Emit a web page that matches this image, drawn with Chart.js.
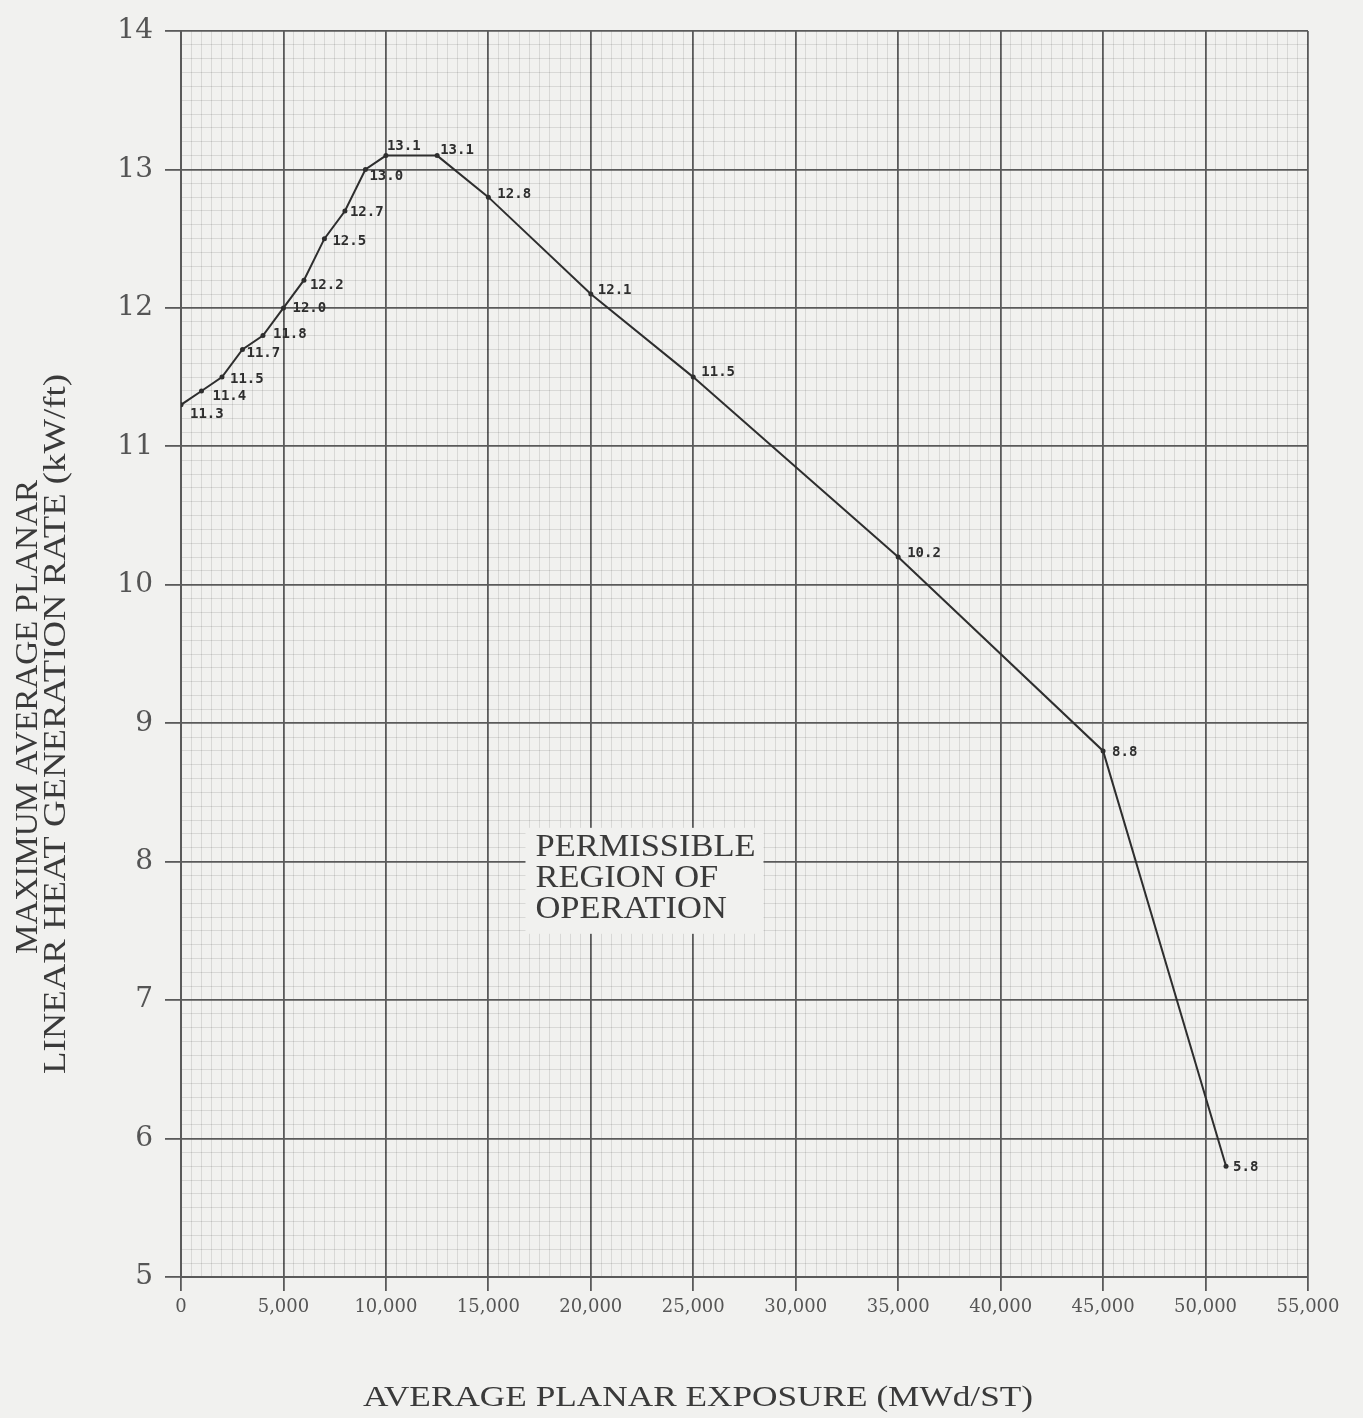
<!DOCTYPE html>
<html>
<head>
  <title>MAPLHGR vs Average Planar Exposure</title>
  <script src="https://cdn.jsdelivr.net/npm/chart.js"></script>
  <style>
    body {
      margin: 0;
      background-color: #f1f1ef;
    }
    #wrap {
      width: 1363px;
      height: 1418px;
    }
  </style>
</head>
<body>
  <div id="wrap">
    <canvas id="limitChart" width="1363" height="1418"></canvas>
  </div>

  <script>
    // exposure in MWd/ST, limit in kW/ft
    var exposure = [0, 1000, 2000, 3000, 4000, 5000, 6000, 7000, 8000, 9000, 10000, 12500, 15000, 20000, 25000, 35000, 45000, 51000];
    var limit = [11.3, 11.4, 11.5, 11.7, 11.8, 12.0, 12.2, 12.5, 12.7, 13.0, 13.1, 13.1, 12.8, 12.1, 11.5, 10.2, 8.8, 5.8];
    var xTitle = 'AVERAGE PLANAR EXPOSURE (MWd/ST)';
    var yTitle = ['MAXIMUM AVERAGE PLANAR', 'LINEAR HEAT GENERATION RATE (kW/ft)'];
    var regionText = ['PERMISSIBLE', 'REGION OF', 'OPERATION'];

    // where each value label sits relative to its point (px)
    var labelOffsets = [[9, 10], [11, 5], [8, 2], [4, 4], [10, -1], [9, 0], [6, 5], [8, 3], [5, 1], [4, 7],
      [1, -9], [3, -5], [9, -3], [7, -4], [8, -5], [9, -4], [9, 1], [7, 1]];

    var MAJOR = '#5a5a5a';
    var MINOR = 'rgba(0,0,0,0.10)';
    var BG = '#f1f1ef';

    function isWhole(v, step) {
      var r = v / step;
      return Math.abs(r - Math.round(r)) < 1e-6;
    }

    // draw a string squeezed/stretched to a given width
    function fitText(ctx, text, x, y, width) {
      var w = ctx.measureText(text).width;
      ctx.save();
      ctx.translate(x, y);
      ctx.scale(width / w, 1);
      ctx.fillText(text, 0, 0);
      ctx.restore();
    }

    var decorations = {
      id: 'decorations',
      beforeDraw: function (chart) {
        var ctx = chart.ctx;
        ctx.save();
        ctx.fillStyle = BG;
        ctx.fillRect(0, 0, chart.width, chart.height);
        ctx.restore();
      },
      beforeDatasetsDraw: function (chart) {
        var ctx = chart.ctx;
        var xs = chart.scales.x, ys = chart.scales.y;
        var left = xs.getPixelForValue(17300);
        var top = ys.getPixelForValue(8.1);
        ctx.save();
        ctx.fillStyle = BG;
        ctx.fillRect(left - 10, top - 20, 238, 106);
        ctx.fillStyle = '#3a3a3a';
        ctx.font = '32px "Liberation Serif"';
        ctx.textBaseline = 'middle';
        var sc = 220 / ctx.measureText(regionText[0]).width;
        regionText.forEach(function (t, i) {
          fitText(ctx, t, left, top + i * 31, ctx.measureText(t).width * sc);
        });
        ctx.restore();
      },
      afterDatasetsDraw: function (chart) {
        var ctx = chart.ctx;
        var meta = chart.getDatasetMeta(0);
        ctx.save();
        ctx.fillStyle = '#2e2e2e';
        ctx.font = 'bold 14px "DejaVu Sans Mono"';
        ctx.textBaseline = 'middle';
        meta.data.forEach(function (pt, i) {
          var off = labelOffsets[i];
          ctx.fillText(limit[i].toFixed(1), pt.x + off[0], pt.y + off[1]);
        });
        ctx.restore();
      },
      afterDraw: function (chart) {
        var ctx = chart.ctx;
        ctx.save();
        ctx.fillStyle = '#3a3a3a';
        ctx.textBaseline = 'middle';
        ctx.textAlign = 'left';
        ctx.font = '30px "Liberation Serif"';
        fitText(ctx, xTitle, 363, 1398, 670);

        ctx.font = '31px "Liberation Serif"';
        ctx.save();
        ctx.translate(29, 717);
        ctx.rotate(-Math.PI / 2);
        fitText(ctx, yTitle[0], -237, 0, 474);
        ctx.restore();
        ctx.save();
        ctx.translate(57, 724);
        ctx.rotate(-Math.PI / 2);
        fitText(ctx, yTitle[1], -350, 0, 700);
        ctx.restore();
        ctx.restore();
      }
    };

    var points = exposure.map(function (x, i) { return { x: x, y: limit[i] }; });

    var limitChart = new Chart(document.getElementById('limitChart').getContext('2d'), {
      type: 'line',
      data: {
        datasets: [{
          data: points,
          borderColor: '#2e2e2e',
          borderWidth: 2,
          pointRadius: 2.5,
          pointBackgroundColor: '#2e2e2e',
          pointBorderWidth: 0,
          tension: 0
        }]
      },
      options: {
        responsive: false,
        animation: false,
        layout: { padding: { left: 0, top: 31, right: 55, bottom: 0 } },
        plugins: {
          legend: { display: false },
          tooltip: { enabled: false }
        },
        scales: {
          x: {
            type: 'linear',
            min: 0,
            max: 55000,
            afterFit: function (scale) { scale.height = 141; },
            border: { display: true, color: MAJOR, width: 2 },
            grid: {
              color: function (c) { return isWhole(c.tick.value, 5000) ? MAJOR : MINOR; },
              lineWidth: function (c) { return isWhole(c.tick.value, 5000) ? 1.8 : 1; },
              tickColor: function (c) { return isWhole(c.tick.value, 5000) ? MAJOR : 'rgba(0,0,0,0)'; },
              tickLength: 14
            },
            ticks: {
              stepSize: 500,
              autoSkip: false,
              maxRotation: 0,
              padding: 6,
              color: '#555',
              font: { family: '"DejaVu Serif"', size: 18 },
              callback: function (v) { return isWhole(v, 5000) ? v.toLocaleString('en-US') : ''; }
            }
          },
          y: {
            min: 5,
            max: 14,
            afterFit: function (scale) { scale.width = 181; },
            border: { display: true, color: MAJOR, width: 2 },
            grid: {
              color: function (c) { return isWhole(c.tick.value, 1) ? MAJOR : MINOR; },
              lineWidth: function (c) { return isWhole(c.tick.value, 1) ? 1.8 : 1; },
              tickColor: function (c) { return isWhole(c.tick.value, 1) ? MAJOR : 'rgba(0,0,0,0)'; },
              tickLength: 16
            },
            ticks: {
              stepSize: 0.1,
              autoSkip: false,
              padding: 12,
              color: '#555',
              font: { family: '"DejaVu Serif"', size: 28 },
              callback: function (v) { return isWhole(v, 1) ? String(Math.round(v)) : ''; }
            }
          }
        }
      },
      plugins: [decorations]
    });
  </script>
</body>
</html>
